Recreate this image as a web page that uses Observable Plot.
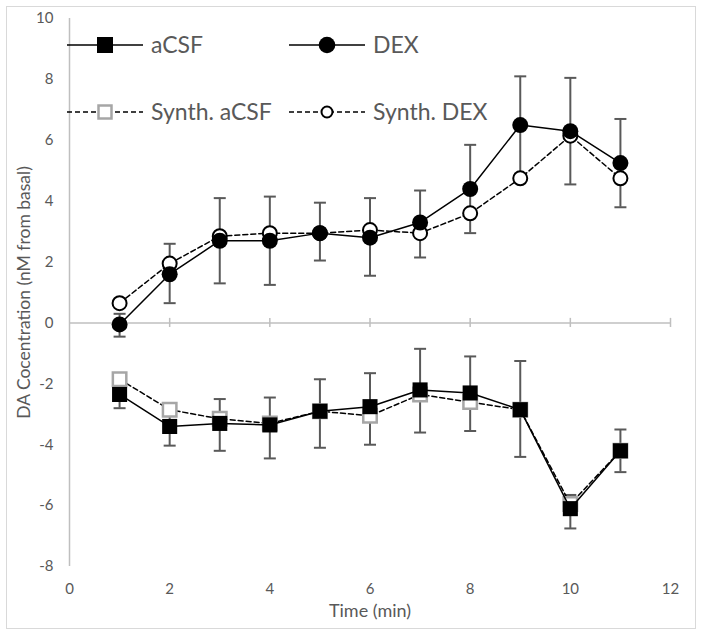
<!DOCTYPE html>
<html>
<head>
<meta charset="utf-8">
<script src="https://cdn.jsdelivr.net/npm/d3@7"></script>
<script src="https://cdn.jsdelivr.net/npm/@observablehq/plot@0.6"></script>
<style>
  html, body { margin: 0; padding: 0; background: #fff; }
  #wrap { position: relative; width: 704px; height: 636px; font-family: Lato, "Open Sans", sans-serif; }
  #border { position: absolute; left: 6px; top: 6px; width: 688px; height: 621px; border: 1.5px solid #d9d9d9; pointer-events: none; }
  #legend { position: absolute; left: 0; top: 0; }
</style>
</head>
<body>
<div id="wrap"><div id="border"></div></div>
<script>
// ---- data ----
const timeMin = [1, 2, 3, 4, 5, 6, 7, 8, 9, 10, 11];
const dex       = [-0.05, 1.6, 2.7, 2.7, 2.95, 2.8, 3.3, 4.4, 6.5, 6.3, 5.25];
const synthDex  = [0.65, 1.95, 2.85, 2.95, 2.95, 3.05, 2.95, 3.6, 4.75, 6.15, 4.75];
const dexErrLow  = [-0.45, 0.65, 1.3, 1.25, 2.05, 1.55, 2.15, 2.95, 4.9, 4.55, 3.8];
const dexErrHigh = [0.3, 2.6, 4.1, 4.15, 3.95, 4.1, 4.35, 5.85, 8.1, 8.05, 6.7];
const acsf       = [-2.35, -3.4, -3.3, -3.35, -2.9, -2.75, -2.2, -2.3, -2.85, -6.1, -4.2];
const synthAcsf  = [-1.85, -2.85, -3.15, -3.3, -2.9, -3.05, -2.35, -2.6, -2.85, -5.95, -4.2];
const acsfErrLow  = [-2.8, -4.03, -4.2, -4.45, -4.1, -4.0, -3.6, -3.55, -4.4, -6.75, -4.9];
const acsfErrHigh = [-1.9, -2.85, -2.5, -2.45, -1.85, -1.65, -0.85, -1.1, -1.25, -5.65, -3.5];
const xTicks = [0, 2, 4, 6, 8, 10, 12];
const yTicks = [-8, -6, -4, -2, 0, 2, 4, 6, 8, 10];
const seriesNames = ["aCSF", "DEX", "Synth. aCSF", "Synth. DEX"];
const xLabel = "Time (min)";
const yLabel = "DA Cocentration (nM from basal)";

// ---- tables ----
const rows = timeMin.map((t, i) => ({
  t, dex: dex[i], synthDex: synthDex[i], acsf: acsf[i], synthAcsf: synthAcsf[i],
  dLo: dexErrLow[i], dHi: dexErrHigh[i], aLo: acsfErrLow[i], aHi: acsfErrHigh[i]
}));
const errs = rows.flatMap(r => [{t: r.t, lo: r.dLo, hi: r.dHi}, {t: r.t, lo: r.aLo, hi: r.aHi}]);
const caps = errs.flatMap(e => [{t: e.t, v: e.lo}, {t: e.t, v: e.hi}]);

const capSymbol = {
  draw(ctx, size) {
    const r = Math.sqrt(size / Math.PI);
    ctx.moveTo(-r, 0); ctx.lineTo(r, 0);
  }
};

const GRAY_AX = "#bfbfbf";
const ERR = "#595959";
const fmt = d => String(d);

const chart = Plot.plot({
  width: 704,
  height: 636,
  marginLeft: 69,
  marginRight: 34,
  marginTop: 18,
  marginBottom: 70,
  style: {fontFamily: "Lato, 'Open Sans', sans-serif", fontSize: "15px", color: "#595959", background: "transparent"},
  x: {domain: [0, 12], ticks: xTicks, tickSize: 0, tickPadding: 17, tickFormat: fmt, label: null},
  y: {domain: [-8, 10], ticks: yTicks, tickSize: 0, tickPadding: 16, tickFormat: fmt, label: null},
  marks: [
    Plot.ruleX([0], {stroke: GRAY_AX, strokeWidth: 1.5}),
    Plot.ruleY([0], {stroke: GRAY_AX, strokeWidth: 1.5}),
    Plot.ruleX(xTicks.filter(d => d > 0), {x: d => d, y1: -0.15, y2: 0.15, stroke: GRAY_AX, strokeWidth: 1.5}),
    Plot.text([yLabel], {frameAnchor: "left", textAnchor: "middle", lineAnchor: "middle", rotate: -90, dx: -45, fontSize: 17.5, fill: "#595959"}),
    Plot.text([xLabel], {frameAnchor: "bottom", textAnchor: "middle", lineAnchor: "middle", dy: 45, fontSize: 18, fill: "#595959"}),
    // error bars
    Plot.ruleX(errs, {x: "t", y1: "lo", y2: "hi", stroke: ERR, strokeWidth: 2}),
    Plot.dot(caps, {x: "t", y: "v", symbol: capSymbol, r: 6, stroke: ERR, strokeWidth: 2, fill: "none"}),
    // synthetic series
    Plot.line(rows, {x: "t", y: "synthDex", stroke: "black", strokeWidth: 1.5, strokeDasharray: "5,3"}),
    Plot.line(rows, {x: "t", y: "synthAcsf", stroke: "black", strokeWidth: 1.5, strokeDasharray: "5,3"}),
    Plot.dot(rows, {x: "t", y: "synthDex", r: 7, stroke: "black", strokeWidth: 2, fill: "white"}),
    Plot.dot(rows, {x: "t", y: "synthAcsf", symbol: "square", r: 7.6, stroke: "#a6a6a6", strokeWidth: 2.5, fill: "white"}),
    // measured series
    Plot.line(rows, {x: "t", y: "dex", stroke: "black", strokeWidth: 1.5}),
    Plot.line(rows, {x: "t", y: "acsf", stroke: "black", strokeWidth: 1.5}),
    Plot.dot(rows, {x: "t", y: "dex", r: 8, fill: "black", stroke: "none"}),
    Plot.dot(rows, {x: "t", y: "acsf", symbol: "square", r: 8.5, fill: "black", stroke: "none"})
  ]
});
chart.style.position = "absolute";
chart.style.left = "0px";
chart.style.top = "0px";
const wrap = document.getElementById("wrap");
wrap.insertBefore(chart, wrap.firstChild);

// ---- legend (inside plot area, top-left) ----
const leg = d3.select(wrap).append("svg").attr("id", "legend").attr("width", 704).attr("height", 140);
const items = [
  {name: seriesNames[0], x: 67, y: 45, dash: null, kind: "fsq"},
  {name: seriesNames[1], x: 289, y: 45, dash: null, kind: "fci"},
  {name: seriesNames[2], x: 67, y: 112, dash: "5,3", kind: "osq"},
  {name: seriesNames[3], x: 289, y: 112, dash: "5,3", kind: "oci"}
];
for (const it of items) {
  const g = leg.append("g").attr("transform", `translate(${it.x},${it.y})`);
  g.append("line").attr("x1", 0).attr("x2", 76).attr("stroke", "black").attr("stroke-width", 1.5)
    .attr("stroke-dasharray", it.dash);
  const cx = 38;
  if (it.kind === "fsq") g.append("rect").attr("x", cx - 8).attr("y", -8).attr("width", 16).attr("height", 16).attr("fill", "black");
  if (it.kind === "fci") g.append("circle").attr("cx", cx).attr("r", 8.3).attr("fill", "black");
  if (it.kind === "osq") g.append("rect").attr("x", cx - 6.5).attr("y", -6.5).attr("width", 13).attr("height", 13).attr("fill", "white").attr("stroke", "#a6a6a6").attr("stroke-width", 2.5);
  if (it.kind === "oci") g.append("circle").attr("cx", cx).attr("r", 5.5).attr("fill", "white").attr("stroke", "black").attr("stroke-width", 2);
  g.append("text").attr("x", 84).attr("dy", "0.35em").attr("fill", "#595959")
    .style("font-family", "Lato, 'Open Sans', sans-serif").style("font-size", "23px").text(it.name);
}
</script>
</body>
</html>
